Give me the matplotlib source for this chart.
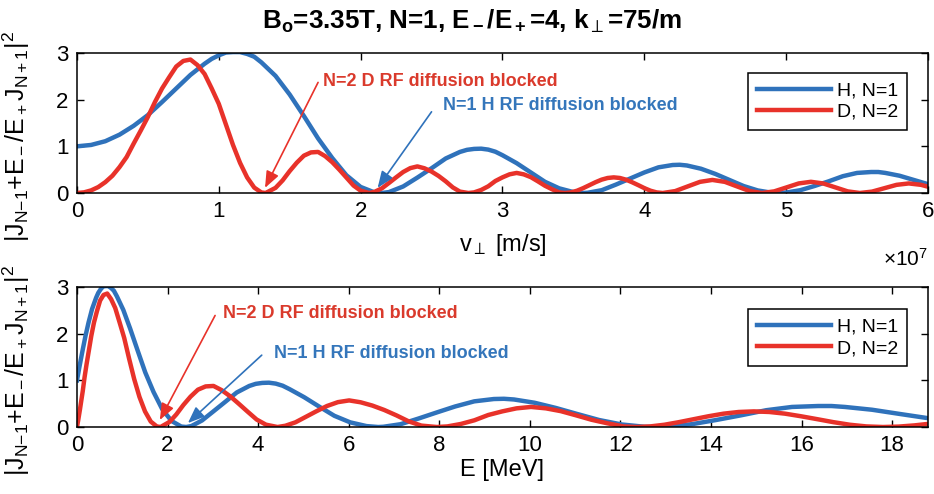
import matplotlib
matplotlib.use('Agg')
import matplotlib.pyplot as plt

plt.rcParams['font.family'] = ['Liberation Sans', 'DejaVu Sans']
plt.rcParams['mathtext.fontset'] = 'custom'
plt.rcParams['mathtext.rm'] = 'Liberation Sans'
plt.rcParams['mathtext.it'] = 'Liberation Sans:italic'
plt.rcParams['mathtext.bf'] = 'Liberation Sans:bold'
plt.rcParams['mathtext.default'] = 'regular'

BLUE = '#2F72BB'
RED = '#E8322A'
BLUE_TXT = '#3476BB'
RED_TXT = '#DA3A2C'

# ---- top panel: v_perp in units of 1e7 m/s ----
v_H = [0.0, 0.1, 0.2, 0.3, 0.4, 0.5, 0.6, 0.7, 0.8, 0.9, 0.95, 1.0, 1.05, 1.1, 1.15, 1.2,
       1.25, 1.3, 1.4, 1.5, 1.6, 1.7, 1.8, 1.9, 2.0, 2.1, 2.15, 2.2, 2.3, 2.4, 2.5, 2.6,
       2.7, 2.75, 2.8, 2.85, 2.9, 2.95, 3.0, 3.1, 3.2, 3.3, 3.4, 3.5, 3.57, 3.6, 3.7, 3.8,
       3.9, 4.0, 4.1, 4.2, 4.25, 4.3, 4.4, 4.5, 4.6, 4.7, 4.8, 4.9, 4.95, 5.0, 5.1, 5.2,
       5.3, 5.4, 5.5, 5.6, 5.65, 5.7, 5.8, 5.9, 6.0]
y_H = [1.00, 1.03, 1.11, 1.25, 1.44, 1.67, 1.95, 2.24, 2.53, 2.77, 2.875, 2.95, 3.01, 3.02, 3.02, 2.98,
       2.92, 2.80, 2.51, 2.11, 1.65, 1.17, 0.75, 0.38, 0.13, 0.01, 0.0, 0.02, 0.14, 0.33, 0.53, 0.74,
       0.88, 0.925, 0.945, 0.95, 0.93, 0.885, 0.81, 0.64, 0.44, 0.24, 0.10, 0.02, 0.0, 0.005, 0.06, 0.18,
       0.31, 0.44, 0.55, 0.60, 0.605, 0.59, 0.52, 0.41, 0.28, 0.15, 0.055, 0.005, 0.0, 0.01, 0.06, 0.15,
       0.25, 0.36, 0.43, 0.45, 0.45, 0.43, 0.37, 0.28, 0.19]

v_D = [0, 0.05, 0.1, 0.15, 0.2, 0.25, 0.3, 0.35, 0.4, 0.45, 0.5, 0.55, 0.6, 0.65, 0.7,
       0.75, 0.8, 0.85, 0.9, 0.95, 1.0, 1.05, 1.1, 1.15, 1.2, 1.25, 1.3, 1.33,
       1.4, 1.45, 1.5, 1.55, 1.6, 1.65, 1.7, 1.75, 1.8, 1.85, 1.9, 1.95, 2.0, 2.06,
       2.1, 2.15, 2.2, 2.25, 2.3, 2.35, 2.4, 2.45, 2.5, 2.55, 2.6, 2.65, 2.7, 2.76,
       2.8, 2.85, 2.9, 2.95, 3.0, 3.05, 3.1, 3.15, 3.2, 3.25, 3.3, 3.35, 3.4, 3.44,
       3.483, 3.526, 3.569, 3.613, 3.656, 3.699, 3.742, 3.785, 3.828, 3.871, 3.914,
       3.958, 4.001, 4.044, 4.087, 4.13,
       4.218, 4.305, 4.393, 4.48, 4.568, 4.655, 4.743, 4.83,
       4.916, 5.003, 5.089, 5.175, 5.261, 5.348, 5.434, 5.52,
       5.606, 5.693, 5.779, 5.865, 5.951, 6.0]
y_D = [0, 0.014, 0.056, 0.127, 0.233, 0.37, 0.555, 0.77, 1.06, 1.34, 1.63, 1.95, 2.24, 2.48, 2.71,
       2.83, 2.86, 2.74, 2.55, 2.24, 1.91, 1.47, 1.03, 0.645, 0.333, 0.116, 0.012, 0,
       0.11, 0.27, 0.47, 0.65, 0.80, 0.87, 0.88, 0.79, 0.66, 0.50, 0.33, 0.16, 0.05, 0,
       0.027, 0.10, 0.216, 0.335, 0.45, 0.533, 0.57, 0.53, 0.46, 0.365, 0.25, 0.12, 0.03, 0,
       0.013, 0.065, 0.144, 0.257, 0.335, 0.40, 0.43, 0.40, 0.34, 0.25, 0.155, 0.08, 0.013, 0,
       0.013, 0.049, 0.104, 0.168, 0.231, 0.286, 0.322, 0.335, 0.322, 0.286, 0.231,
       0.168, 0.104, 0.049, 0.013, 0,
       0.041, 0.14, 0.239, 0.28, 0.239, 0.14, 0.041, 0,
       0.035, 0.12, 0.205, 0.24, 0.205, 0.12, 0.035, 0,
       0.030, 0.103, 0.175, 0.205, 0.175, 0.135]

# ---- bottom panel: energy in MeV ----
E_H = [0, 0.005, 0.021, 0.047, 0.084, 0.130, 0.188, 0.256, 0.334, 0.423, 0.471, 0.522, 0.575, 0.632,
       0.690, 0.752, 0.815, 0.882, 1.023, 1.174, 1.336, 1.508, 1.691, 1.884, 2.088, 2.302, 2.412,
       2.526, 2.761, 3.006, 3.262, 3.528, 3.805, 3.947, 4.092, 4.239, 4.389, 4.542, 4.697, 5.015,
       5.344, 5.684, 6.033, 6.393, 6.652, 6.764, 7.145, 7.536, 7.938, 8.350, 8.773, 9.206, 9.427,
       9.650, 10.104, 10.568, 11.043, 11.529, 12.025, 12.531, 12.788, 13.048, 13.575, 14.112,
       14.660, 15.219, 15.787, 16.367, 16.660, 16.957, 17.557, 18.167, 18.788]
yE_H = y_H

E_D = [0, 0.003, 0.010, 0.024, 0.042, 0.065, 0.094, 0.128, 0.167, 0.211, 0.261, 0.316, 0.376,
       0.441, 0.511, 0.587, 0.668, 0.754, 0.845, 0.942, 1.043, 1.150, 1.263, 1.380, 1.503,
       1.630, 1.763, 1.846,
       2.045, 2.194, 2.348, 2.507, 2.671, 2.841, 3.015, 3.195, 3.381, 3.571, 3.767, 3.968,
       4.174, 4.428,
       4.601, 4.823, 5.050, 5.282, 5.520, 5.762, 6.010, 6.263, 6.521, 6.785, 7.053, 7.327,
       7.606, 7.948,
       8.180, 8.475, 8.775, 9.080, 9.391, 9.706, 10.027, 10.353, 10.684, 11.021, 11.363,
       11.710, 12.062, 12.347,
       12.658, 12.972, 13.290, 13.620, 13.946, 14.277, 14.610, 14.948, 15.290, 15.635,
       15.984, 16.346, 16.703, 17.064, 17.428, 17.797,
       18.144, 18.493, 18.793]
yE_D = [0, 0.014, 0.056, 0.127, 0.233, 0.37, 0.555, 0.77, 1.06, 1.34, 1.63, 1.95, 2.24, 2.48, 2.71,
        2.83, 2.86, 2.74, 2.55, 2.24, 1.91, 1.47, 1.03, 0.645, 0.333, 0.116, 0.012, 0,
        0.11, 0.27, 0.47, 0.65, 0.80, 0.87, 0.88, 0.79, 0.66, 0.50, 0.33, 0.16, 0.05, 0,
        0.027, 0.10, 0.216, 0.335, 0.45, 0.533, 0.57, 0.53, 0.46, 0.365, 0.25, 0.12, 0.03, 0,
        0.013, 0.065, 0.144, 0.257, 0.335, 0.40, 0.43, 0.40, 0.34, 0.25, 0.155, 0.08, 0.013, 0,
        0.013, 0.049, 0.104, 0.168, 0.231, 0.286, 0.322, 0.335, 0.322, 0.286, 0.231,
        0.168, 0.104, 0.049, 0.013, 0,
        0.009, 0.035, 0.067]

legend_labels = ['H, N=1', 'D, N=2']
ylab = r'|J$_{N{-}1}$+E$_-$/E$_+$J$_{N+1}$|$^2$'
arrow_style = '-|>,head_length=1.0,head_width=0.4'

fig = plt.figure(figsize=(9.34, 4.94), dpi=100)
ax1 = fig.add_axes([0.0824, 0.6093, 0.9111, 0.2834])
ax2 = fig.add_axes([0.0824, 0.1356, 0.9111, 0.2834])


def style(ax):
    ax.tick_params(direction='in', length=5, width=1, top=True, right=True,
                   labelsize=16, pad=6)
    for s in ax.spines.values():
        s.set_linewidth(1.1)
    ax.set_ylim(0, 3)
    ax.set_yticks([0, 1, 2, 3])


def add_legend(ax, y_top):
    leg = ax.legend(loc='upper right', bbox_to_anchor=(0.975, y_top), borderaxespad=0,
                    handlelength=3.8, handletextpad=0.3, borderpad=0.45, labelspacing=0.2,
                    fancybox=False, edgecolor='black', framealpha=1, fontsize=14)
    leg.get_frame().set_linewidth(1.1)


# top
ax1.plot(v_H, y_H, color=BLUE, lw=3.2, label=legend_labels[0])
ax1.plot(v_D, y_D, color=RED, lw=3.2, label=legend_labels[1])
ax1.set_xlim(0, 6)
ax1.set_xticks(range(7))
style(ax1)
ax1.set_xlabel(r'v$_\perp$ [m/s]', fontsize=17)
ax1.xaxis.set_label_coords(0.5, -0.28)
ax1.set_ylabel(ylab, fontsize=18)
ax1.yaxis.set_label_coords(-0.053, 0.40)
ax1.text(1.0, -0.395, r'$\times$10$^7$', transform=ax1.transAxes,
         ha='right', va='top', fontsize=15)

ax1.annotate('', xy=(1.326, 0.11), xytext=(1.70, 2.37),
             arrowprops=dict(arrowstyle=arrow_style, color=RED, lw=1.2, shrinkA=0, shrinkB=0))
ax1.annotate('', xy=(2.12, 0.11), xytext=(2.50, 1.74),
             arrowprops=dict(arrowstyle=arrow_style, color=BLUE, lw=1.2, shrinkA=0, shrinkB=0))
ax1.text(1.734, 2.40, 'N=2 D RF diffusion blocked', color=RED_TXT, fontsize=13,
         fontweight='bold', ha='left', va='center')
ax1.text(2.58, 1.87, 'N=1 H RF diffusion blocked', color=BLUE_TXT, fontsize=13,
         fontweight='bold', ha='left', va='center')
add_legend(ax1, 0.857)

# bottom
ax2.plot(E_H, yE_H, color=BLUE, lw=3.2, label=legend_labels[0])
ax2.plot(E_D, yE_D, color=RED, lw=3.2, label=legend_labels[1])
ax2.set_xlim(0, 18.79)
ax2.set_xticks(range(0, 19, 2))
style(ax2)
ax2.set_xlabel('E [MeV]', fontsize=17)
ax2.xaxis.set_label_coords(0.5, -0.225)
ax2.set_ylabel(ylab, fontsize=18)
ax2.yaxis.set_label_coords(-0.053, 0.406)

ax2.annotate('', xy=(1.83, 0.15), xytext=(3.05, 2.39),
             arrowprops=dict(arrowstyle=arrow_style, color=RED, lw=1.2, shrinkA=0, shrinkB=0))
ax2.annotate('', xy=(2.45, 0.085), xytext=(4.08, 1.54),
             arrowprops=dict(arrowstyle=arrow_style, color=BLUE, lw=1.2, shrinkA=0, shrinkB=0))
ax2.text(3.22, 2.44, 'N=2 D RF diffusion blocked', color=RED_TXT, fontsize=13,
         fontweight='bold', ha='left', va='center')
ax2.text(4.35, 1.58, 'N=1 H RF diffusion blocked', color=BLUE_TXT, fontsize=13,
         fontweight='bold', ha='left', va='center')
add_legend(ax2, 0.841)

fig.text(0.505, 0.9427, r'B$_o$=3.35T, N=1, E$_-$/E$_+$=4, k$_\perp$=75/m',
         ha='center', va='baseline', fontsize=18.7, fontweight='bold')

fig.savefig('out.png', dpi=100)
